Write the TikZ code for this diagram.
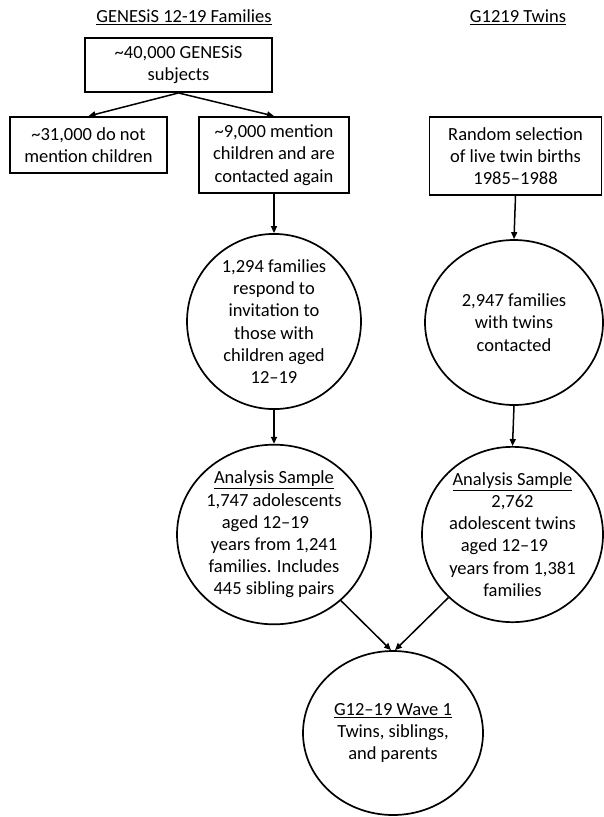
\documentclass[tikz,border=0pt]{standalone}
\usepackage{fontspec}
\setmainfont{Carlito}
\usetikzlibrary{shapes.geometric,arrows.meta}
\begin{document}
\begin{tikzpicture}[x=1pt,y=1pt,
  every node/.style={font=\fontsize{18.5}{22.2}\selectfont, align=center, inner sep=0pt},
  boxnode/.style={draw, line width=1.9pt, rectangle},
  ellnode/.style={draw, line width=1.7pt, ellipse},
  flow/.style={line width=1.5pt, -{Triangle[length=7pt,width=6pt]}}
]
\useasboundingbox (0,0) rectangle (603,-817);

\node (t1) at (184,-17) {\underline{GENESiS 12-19 Families}};
\node (t2) at (518,-17) {\underline{G1219 Twins}};

\node[boxnode, minimum width=187pt, minimum height=54pt] (b1) at (178.5,-65) {\textasciitilde 40,000 GENESiS\\subjects};
\node[boxnode, minimum width=157pt, minimum height=56pt] (b2) at (88.5,-145) {\textasciitilde 31,000 do not\\mention children};
\node[boxnode, minimum width=150pt, minimum height=76pt] (b3) at (274,-155) {\textasciitilde 9,000 mention\\children and are\\contacted again};
\node[boxnode, minimum width=172pt, minimum height=78pt] (b4) at (515.5,-156) {Random selection\\of live twin births\\1985–1988};

\node[ellnode, minimum width=174pt, minimum height=165pt] (c1) at (274,-321.5) {1,294 families\\respond to\\invitation to\\those with\\children aged\\12–19};
\node[ellnode, minimum width=178pt, minimum height=165pt] (c2) at (514,-322.5) {2,947 families\\with twins\\contacted};

\node[ellnode, minimum width=194pt, minimum height=175pt] (a1) at (274,-534.5) {\underline{Analysis Sample}\\1,747 adolescents\\aged 12–19\rule{17pt}{0pt}\\years from 1,241\\families. Includes\\445 sibling pairs};
\node[ellnode, minimum width=181pt, minimum height=175pt] (a2) at (512.5,-534.5) {\underline{Analysis Sample}\\2,762\\adolescent twins\\aged 12–19\rule{16pt}{0pt}\\years from 1,381\\families};

\node[ellnode, minimum width=180pt, minimum height=164pt] (f) at (393,-733) {\underline{G12–19 Wave 1}\\Twins, siblings,\\and parents};

\coordinate (fl) at ([xshift=-2pt]f.north);
\coordinate (fr) at ([xshift=2pt]f.north);

\draw[flow] (b1.south) -- (b2.north);
\draw[flow] (b1.south) -- (b3.north);
\draw[flow] (b3.south) -- (c1.north);
\draw[flow] (b4.south) -- (c2.north);
\draw[flow] (c1.south) -- (a1.north);
\draw[flow] (c2.south) -- (a2.north);
\draw[flow] (a1) -- (fl);
\draw[flow] (a2) -- (fr);
\end{tikzpicture}
\end{document}
